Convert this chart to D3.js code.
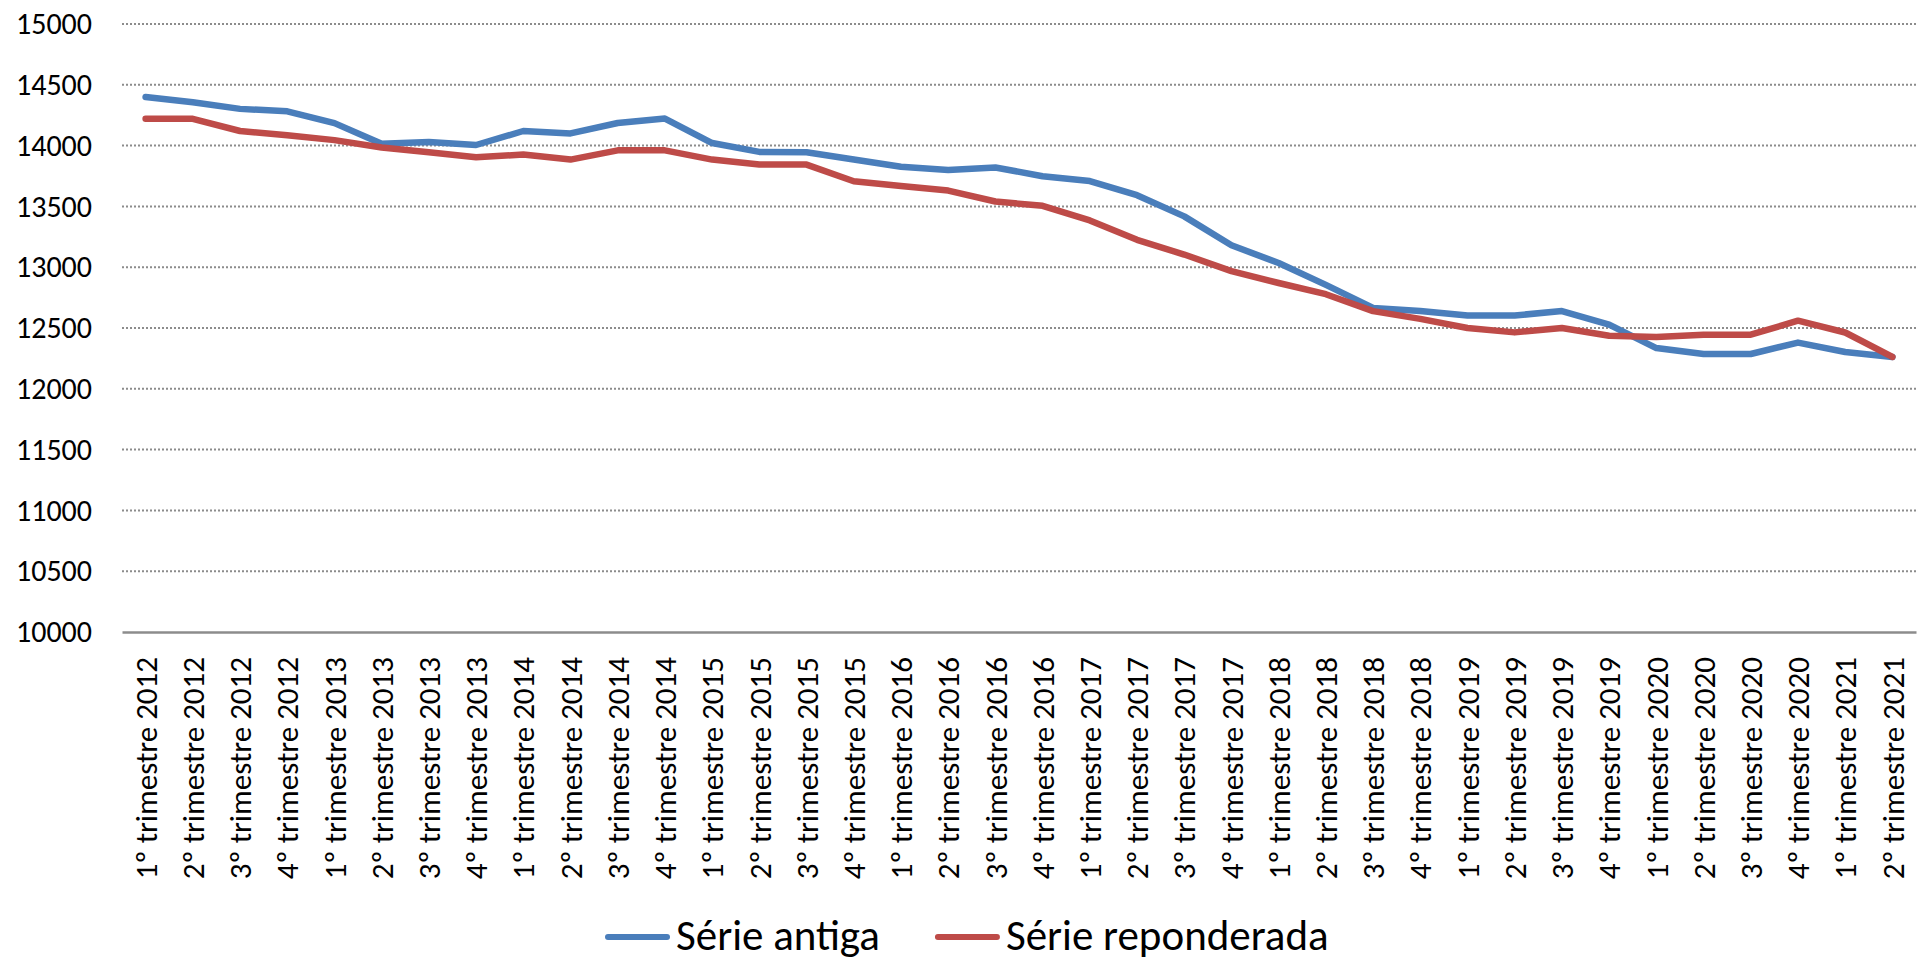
<!DOCTYPE html>
<html>
<head>
<meta charset="utf-8">
<script src="https://cdn.jsdelivr.net/npm/d3@7"></script>
<style>
  body { margin: 0; background: #fff; }
  svg text { font-family: Carlito, Lato, sans-serif; fill: #000; }
</style>
</head>
<body>
<svg id="chart" width="1917" height="963"></svg>
<script>
// categories (quarters)
var quarters = ["1º trimestre 2012","2º trimestre 2012","3º trimestre 2012","4º trimestre 2012",
  "1º trimestre 2013","2º trimestre 2013","3º trimestre 2013","4º trimestre 2013",
  "1º trimestre 2014","2º trimestre 2014","3º trimestre 2014","4º trimestre 2014",
  "1º trimestre 2015","2º trimestre 2015","3º trimestre 2015","4º trimestre 2015",
  "1º trimestre 2016","2º trimestre 2016","3º trimestre 2016","4º trimestre 2016",
  "1º trimestre 2017","2º trimestre 2017","3º trimestre 2017","4º trimestre 2017",
  "1º trimestre 2018","2º trimestre 2018","3º trimestre 2018","4º trimestre 2018",
  "1º trimestre 2019","2º trimestre 2019","3º trimestre 2019","4º trimestre 2019",
  "1º trimestre 2020","2º trimestre 2020","3º trimestre 2020","4º trimestre 2020",
  "1º trimestre 2021","2º trimestre 2021"];

// series values
var serie_antiga = [14400, 14357, 14302, 14282, 14185, 14015, 14030, 14005,
  14120, 14100, 14186, 14222, 14021, 13948, 13946, 13885,
  13826, 13800, 13820, 13748, 13708, 13592, 13418, 13180,
  13035, 12855, 12665, 12640, 12603, 12603, 12639, 12528,
  12335, 12286, 12286, 12380, 12303, 12262];
var serie_reponderada = [14220, 14220, 14120, 14085, 14045, 13985, 13945, 13905,
  13926, 13885, 13961, 13961, 13885, 13844, 13844, 13707,
  13668, 13630, 13540, 13505, 13385, 13225, 13104, 12968,
  12870, 12778, 12639, 12575, 12500, 12464, 12500, 12436,
  12425, 12445, 12445, 12560, 12463, 12262];

// y ticks
var y_ticks = [10000, 10500, 11000, 11500, 12000, 12500, 13000, 13500, 14000, 14500, 15000];

var series_names = ["Série antiga", "Série reponderada"];
var colors = ["#4A7EBB", "#BE4B48"];

var svg = d3.select("#chart"),
margin = {top: 24, right: 1, bottom: 331, left: 122},
width = +svg.attr("width") - margin.left - margin.right,
height = +svg.attr("height") - margin.top - margin.bottom;

var x = d3.scaleBand().domain(quarters).range([0, width]).padding(0);
var y = d3.scaleLinear().domain([10000, 15000]).range([height, 0]);

var g = svg.append("g")
  .attr("transform", "translate(" + margin.left + "," + margin.top + ")");

// dotted grid lines
g.selectAll(".grid")
  .data(y_ticks.filter(function(d) { return d > 10000; }))
  .enter().append("line")
  .attr("class", "grid")
  .attr("x1", 0).attr("x2", width)
  .attr("y1", function(d) { return y(d); })
  .attr("y2", function(d) { return y(d); })
  .attr("stroke", "#8c8c8c")
  .attr("stroke-width", 2)
  .attr("stroke-dasharray", "2,2");

// y axis labels
var yAxis = g.append("g")
  .call(d3.axisLeft(y).tickValues(y_ticks).tickSize(0).tickPadding(30).tickFormat(d3.format("d")));
yAxis.select(".domain").remove();
yAxis.selectAll("text")
  .style("font-family", "Carlito, Lato, sans-serif")
  .attr("font-size", 30)
  .attr("fill", "#000");

// x axis
var xAxis = g.append("g")
  .attr("transform", "translate(0," + height + ")")
  .call(d3.axisBottom(x).tickSize(0).tickPadding(0));
xAxis.select(".domain")
  .attr("stroke", "#8c8c8c")
  .attr("stroke-width", 2.5);
xAxis.selectAll("text")
  .style("font-family", "Carlito, Lato, sans-serif")
  .attr("font-size", 31)
  .attr("fill", "#000")
  .attr("text-anchor", "end")
  .attr("transform", "rotate(-90)")
  .attr("x", -25)
  .attr("y", 0)
  .attr("dy", "0.36em");

// lines
var line = d3.line()
  .x(function(d, i) { return x(quarters[i]) + x.bandwidth() / 2; })
  .y(function(d) { return y(d); });

[serie_antiga, serie_reponderada].forEach(function(s, k) {
  g.append("path")
    .datum(s)
    .attr("fill", "none")
    .attr("stroke", colors[k])
    .attr("stroke-width", 6.5)
    .attr("stroke-linejoin", "round")
    .attr("stroke-linecap", "round")
    .attr("d", line);
});

// legend
var legend = svg.append("g").attr("transform", "translate(605,937)");
var lx = 0;
series_names.forEach(function(name, k) {
  legend.append("line")
    .attr("x1", lx + 3).attr("x2", lx + 62)
    .attr("y1", 0).attr("y2", 0)
    .attr("stroke", colors[k])
    .attr("stroke-width", 6)
    .attr("stroke-linecap", "round");
  var t = legend.append("text")
    .attr("x", lx + 71)
    .attr("y", 13)
    .attr("font-size", 43)
    .text(name);
  lx = lx + 71 + t.node().getComputedTextLength() + 55;
});
</script>
</body>
</html>
